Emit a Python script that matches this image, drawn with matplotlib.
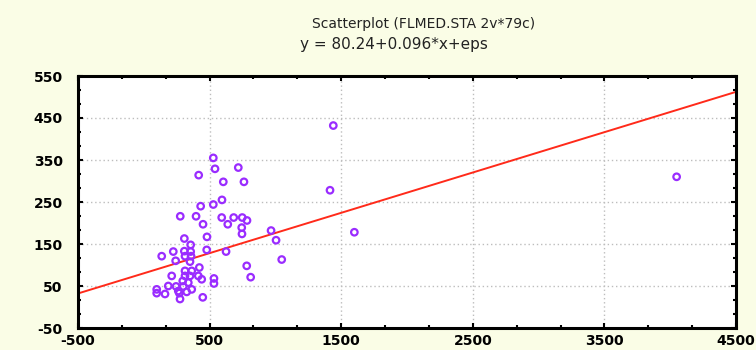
import matplotlib
matplotlib.use("Agg")
import matplotlib.pyplot as plt
from matplotlib.ticker import FixedLocator, AutoMinorLocator
import numpy as np

x_vals = [528, 541, 718, 417, 604, 761, 1415, 594, 528, 432,
          277, 397, 592, 683, 748, 784, 638, 450, 744, 967,
          746, 1600, 480, 308, 1005, 356, 308, 224, 478, 625,
          356, 136, 313, 359, 242, 351, 1048, 782, 422, 313,
          364, 212, 313, 351, 414, 440, 533, 812, 296, 338,
          533, 186, 245, 300, 364, 98, 262, 98, 161, 270,
          326, 275, 448, 4049, 1440]
y_vals = [355, 329, 332, 314, 298, 298, 278, 255, 244, 240,
          216, 216, 213, 213, 213, 206, 197, 197, 189, 182,
          174, 178, 167, 163, 159, 148, 133, 132, 136, 132,
          132, 121, 121, 121, 110, 108, 113, 98, 94, 86,
          86, 74, 74, 74, 74, 66, 68, 71, 62, 58,
          56, 50, 49, 49, 42, 42, 38, 33, 31, 33,
          36, 19, 23, 310, 432]

# fitted line y = 80.24 + 0.096*x
intercept = 80.24
slope = 0.096

x_ticks = [-500, 500, 1500, 2500, 3500, 4500]
y_ticks = [-50, 50, 150, 250, 350, 450, 550]

title_lines = ["Scatterplot (FLMED.STA 2v*79c)", "y = 80.24+0.096*x+eps"]

bg = "#fafde6"
plt.rcParams["font.family"] = ["DejaVu Sans"]
plt.rcParams["axes.unicode_minus"] = False

fig = plt.figure(figsize=(7.56, 3.5), dpi=100, facecolor=bg)
ax = fig.add_axes([0.1032, 1 - 328 / 350, 0.8703, (328 - 76) / 350])
ax.set_facecolor("white")

fit_x = np.linspace(x_ticks[0], x_ticks[-1], 200)
ax.plot(fit_x, intercept + slope * fit_x, color="#ff2a1a", lw=1.4, zorder=2)
ax.scatter(x_vals, y_vals, s=22, facecolors="none", edgecolors="#9a2cff",
           linewidths=1.6, zorder=3)

ax.set_xlim(x_ticks[0], x_ticks[-1])
ax.set_ylim(y_ticks[0], y_ticks[-1])
ax.xaxis.set_major_locator(FixedLocator(x_ticks))
ax.yaxis.set_major_locator(FixedLocator(y_ticks))
ax.xaxis.set_minor_locator(AutoMinorLocator(3))
ax.yaxis.set_minor_locator(AutoMinorLocator(3))
ax.grid(True, which="major", color="#bdbdbd", ls=(0, (1, 2)), lw=1.0)
ax.set_axisbelow(True)

ax.tick_params(which="both", direction="in", top=True, right=True,
               labelsize=10, width=1.5, color="black")
ax.tick_params(which="major", length=3.5)
ax.tick_params(which="minor", length=2.5)
ax.tick_params(axis="y", pad=11)
ax.tick_params(axis="x", pad=4)
for lbl in ax.get_xticklabels() + ax.get_yticklabels():
    lbl.set_fontweight("bold")

for sp in ax.spines.values():
    sp.set_linewidth(2.2)
    sp.set_color("black")

fig.text(424 / 756, 1 - 24 / 350, title_lines[0], ha="center", va="center",
         fontsize=10, color="#222222")
fig.text(394 / 756, 1 - 45 / 350, title_lines[1], ha="center", va="center",
         fontsize=11, color="#222222")

fig.savefig("out.png", dpi=100, facecolor=bg)
